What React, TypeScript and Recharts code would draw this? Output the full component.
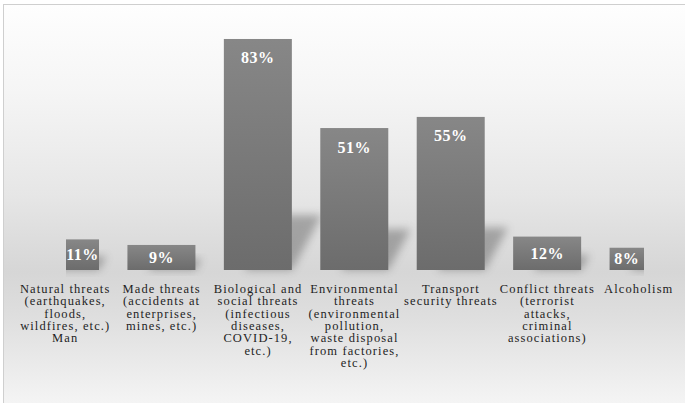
/**
 * Threat perception bar chart (share of respondents per threat type)
 */
import { BarChart, Bar, XAxis, YAxis, LabelList } from 'recharts';

const categories = [
  'Natural threats\n(earthquakes,\nfloods,\nwildfires, etc.)\nMan',
  'Made threats\n(accidents at\nenterprises,\nmines, etc.)',
  'Biological and\nsocial threats\n(infectious\ndiseases,\nCOVID-19,\netc.)',
  'Environmental\nthreats\n(environmental\npollution,\nwaste disposal\nfrom factories,\netc.)',
  'Transport\nsecurity threats',
  'Conflict threats\n(terrorist\nattacks,\ncriminal\nassociations)',
  'Alcoholism',
];

const shares = [11, 9, 83, 51, 55, 12, 8];

const yDomain = [0, 90];

const data = categories.map((name, i) => ({ name, share: shares[i] }));

const WIDTH = 685;
const HEIGHT = 403;
const MARGIN = { top: 19.5, right: 41, bottom: 0, left: 66 };
const SERIF = '"Liberation Serif", "Times New Roman", serif';

/** 多行カテゴリラベル */
function CategoryTick(props: any) {
  const { x, y, payload, index } = props;
  const lines = String(payload.value).split('\n');
  // 最後のラベルは右端で少し内側に寄っている
  const cx = index === categories.length - 1 ? x - 5 : x;
  return (
    <g>
      {lines.map((line, i) => (
        <text
          key={i}
          x={cx}
          y={y + 23 + i * 12.3}
          textAnchor="middle"
          fontFamily={SERIF}
          fontSize={12.5}
          letterSpacing={1.1}
          fill="#1e1e1e"
        >
          {line}
        </text>
      ))}
    </g>
  );
}

/** 影付きバー（プロット領域でクリップ） */
function ShadowBar(props: any) {
  const { x, y, width, height } = props;
  if (!height || height <= 0) return null;
  const base = y + height;
  const hs = Math.min(height * 0.45, 18 + height * 0.16);
  const dx = hs * 0.55;
  const pts = [
    [x + width * 0.3, base],
    [x + width, base],
    [x + width + dx, base - hs],
    [x + width * 0.3 + dx, base - hs],
  ]
    .map((p) => p.join(','))
    .join(' ');
  return (
    <g clipPath="url(#plotClip)">
      <polygon points={pts} fill="#4a4a4a" opacity={0.4} filter="url(#shadowBlur)" />
      <rect x={x} y={y} width={width} height={height} fill="url(#barFill)" />
    </g>
  );
}

/** バー内の値ラベル（見えている部分の中央） */
function ValueLabel(props: any) {
  const vb = props.viewBox || props;
  const { x, y, width, height } = vb;
  const left = Math.max(x, MARGIN.left);
  const right = Math.min(x + width, WIDTH - MARGIN.right);
  const cx = (left + right) / 2;
  const ty = Math.min(y + 24.5, y + height / 2 + 5.5);
  return (
    <text
      x={cx}
      y={ty}
      textAnchor="middle"
      fontFamily={SERIF}
      fontSize={16}
      fontWeight="bold"
      letterSpacing={0.5}
      fill="#ffffff"
    >
      {`${props.value}%`}
    </text>
  );
}

export default function App() {
  return (
    <div style={{ position: 'absolute', left: 0, top: 0, width: WIDTH, height: HEIGHT, overflow: 'hidden', background: '#fff' }}>
      <div
        style={{
          position: 'absolute',
          left: 3,
          top: 4,
          right: 0,
          bottom: 0,
          borderTop: '1px solid #cfcfcf',
          borderLeft: '1px solid #cfcfcf',
          background:
            'linear-gradient(to bottom, #fefefe 0%, #f5f5f5 22%, #e6e6e6 48%, #d6d6d6 67%, #dedede 78%, #f4f4f4 100%)',
        }}
      />
      <div style={{ position: 'absolute', left: 0, top: 0 }}>
        <BarChart width={WIDTH} height={HEIGHT} data={data} margin={MARGIN} barSize={68}>
          <defs>
            <linearGradient id="barFill" x1="0" y1="0" x2="0" y2="1">
              <stop offset="0%" stopColor="#878787" />
              <stop offset="100%" stopColor="#6c6c6c" />
            </linearGradient>
            <filter id="shadowBlur" x="-50%" y="-50%" width="200%" height="200%">
              <feGaussianBlur stdDeviation="4.5" />
            </filter>
            <clipPath id="plotClip">
              <rect x={MARGIN.left} y={0} width={WIDTH - MARGIN.left - MARGIN.right} height={HEIGHT} />
            </clipPath>
          </defs>
          <XAxis
            dataKey="name"
            type="category"
            height={133}
            interval={0}
            tickLine={false}
            axisLine={false}
            tickSize={0}
            tickMargin={0}
            padding={{ left: -49, right: -48 }}
            tick={<CategoryTick />}
          />
          <YAxis hide domain={yDomain} />
          <Bar dataKey="share" isAnimationActive={false} shape={<ShadowBar />}>
            <LabelList dataKey="share" content={<ValueLabel />} />
          </Bar>
        </BarChart>
      </div>
    </div>
  );
}
